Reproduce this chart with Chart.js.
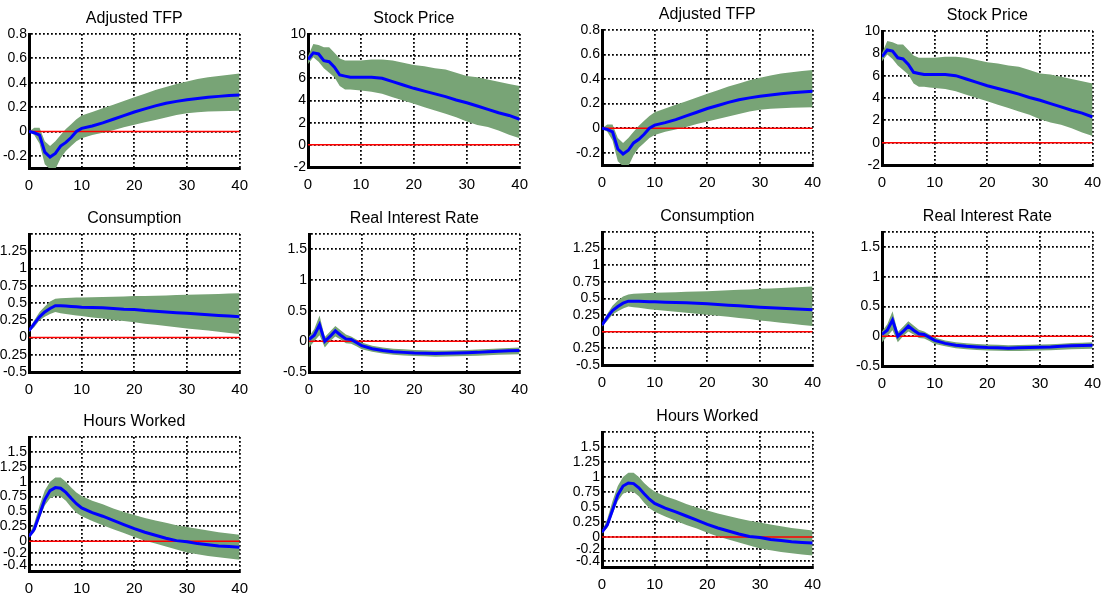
<!DOCTYPE html>
<html>
<head>
<meta charset="utf-8">
<script src="https://cdn.jsdelivr.net/npm/chart.js@4.4.0/dist/chart.umd.min.js"></script>
<style>
  html, body { margin: 0; padding: 0; background: #fff; overflow: hidden; width: 1102px; height: 597px; }
  canvas { position: absolute; }
</style>
</head>
<body>
<script>
// horizon (quarters) at which each response is read
const STEPS = [0, 1, 2, 3, 4, 5, 6, 7, 8, 9, 10, 12, 14, 16, 18, 20, 22, 24, 26, 28, 30, 32, 34, 36, 38, 40];
const X_TICKS = [0, 10, 20, 30, 40];

// Adjusted TFP
const TFP_MEAN = [0, -0.01, -0.03, -0.17, -0.21, -0.18, -0.12, -0.09, -0.05, 0.0, 0.025, 0.045, 0.07, 0.1, 0.13, 0.16, 0.185, 0.21, 0.232, 0.247, 0.26, 0.27, 0.28, 0.288, 0.295, 0.3];
const TFP_HI = [0.0, 0.03, 0.03, -0.08, -0.12, -0.08, -0.03, 0.02, 0.06, 0.1, 0.13, 0.16, 0.19, 0.22, 0.25, 0.28, 0.31, 0.34, 0.365, 0.39, 0.41, 0.43, 0.445, 0.455, 0.465, 0.475];
const TFP_LO = [0, -0.03, -0.1, -0.27, -0.31, -0.31, -0.22, -0.16, -0.12, -0.08, -0.055, -0.03, -0.01, 0.01, 0.035, 0.055, 0.075, 0.095, 0.115, 0.135, 0.15, 0.158, 0.163, 0.166, 0.168, 0.17];
const TFP_TICKS = [-0.2, 0, 0.2, 0.4, 0.6, 0.8];

// Stock Price
const STOCK_MEAN = [7.7, 8.3, 8.2, 7.6, 7.5, 7.0, 6.3, 6.2, 6.1, 6.1, 6.1, 6.1, 6.0, 5.7, 5.4, 5.1, 4.85, 4.6, 4.35, 4.05, 3.8, 3.5, 3.2, 2.9, 2.65, 2.3];
const STOCK_HI = [8.0, 9.1, 9.0, 8.8, 8.8, 8.3, 7.8, 7.6, 7.6, 7.6, 7.6, 7.7, 7.7, 7.6, 7.4, 7.2, 7.1, 6.9, 6.8, 6.5, 6.2, 6.1, 5.9, 5.7, 5.5, 5.3];
const STOCK_LO = [7.3, 7.9, 7.5, 6.9, 6.5, 6.1, 5.3, 5.0, 5.0, 4.95, 4.9, 4.8, 4.6, 4.3, 4.0, 3.7, 3.4, 3.1, 2.8, 2.5, 2.1, 1.8, 1.6, 1.3, 0.9, 0.6];
const STOCK_TICKS = [-2, 0, 2, 4, 6, 8, 10];

// Consumption (left and right blocks differ slightly)
const CONS_MEAN = [0.1, 0.2, 0.3, 0.37, 0.42, 0.46, 0.46, 0.455, 0.45, 0.445, 0.44, 0.435, 0.43, 0.42, 0.41, 0.405, 0.39, 0.38, 0.37, 0.36, 0.35, 0.34, 0.33, 0.32, 0.31, 0.3];
const CONS_HI = [0.12, 0.25, 0.37, 0.45, 0.52, 0.56, 0.57, 0.572, 0.575, 0.578, 0.58, 0.583, 0.586, 0.59, 0.595, 0.6, 0.603, 0.606, 0.61, 0.615, 0.62, 0.624, 0.628, 0.632, 0.636, 0.64];
const CONS_LO = [0.08, 0.15, 0.25, 0.3, 0.34, 0.37, 0.35, 0.34, 0.33, 0.32, 0.31, 0.29, 0.275, 0.255, 0.24, 0.22, 0.2, 0.185, 0.165, 0.15, 0.13, 0.115, 0.1, 0.085, 0.065, 0.05];
const CONS2_MEAN = [0.1, 0.22, 0.32, 0.38, 0.43, 0.46, 0.46, 0.458, 0.455, 0.452, 0.45, 0.445, 0.44, 0.435, 0.43, 0.42, 0.41, 0.4, 0.39, 0.38, 0.37, 0.36, 0.352, 0.345, 0.338, 0.33];
const CONS2_HI = [0.12, 0.27, 0.39, 0.47, 0.53, 0.56, 0.57, 0.574, 0.578, 0.582, 0.585, 0.59, 0.595, 0.6, 0.605, 0.61, 0.617, 0.624, 0.63, 0.637, 0.645, 0.652, 0.659, 0.666, 0.673, 0.68];
const CONS2_LO = [0.08, 0.16, 0.26, 0.31, 0.35, 0.38, 0.37, 0.36, 0.35, 0.34, 0.33, 0.315, 0.3, 0.285, 0.27, 0.255, 0.24, 0.225, 0.205, 0.19, 0.17, 0.155, 0.135, 0.12, 0.1, 0.085];
const CONS_TICKS = [-0.5, -0.25, 0, 0.25, 0.5, 0.75, 1, 1.25, 1.5];

// Real Interest Rate
const RATE_MEAN = [0.03, 0.1, 0.27, 0.0, 0.08, 0.17, 0.1, 0.04, 0.03, -0.02, -0.07, -0.12, -0.15, -0.17, -0.18, -0.19, -0.195, -0.2, -0.195, -0.19, -0.185, -0.18, -0.17, -0.16, -0.155, -0.15];
const RATE_HI = [0.08, 0.2, 0.42, 0.07, 0.16, 0.25, 0.18, 0.11, 0.08, 0.03, -0.02, -0.07, -0.1, -0.12, -0.13, -0.14, -0.145, -0.15, -0.148, -0.145, -0.14, -0.135, -0.125, -0.115, -0.108, -0.1];
const RATE_LO = [-0.1, 0.0, 0.1, -0.1, 0.0, 0.08, 0.03, -0.03, -0.04, -0.08, -0.13, -0.17, -0.2, -0.22, -0.23, -0.24, -0.245, -0.25, -0.248, -0.245, -0.24, -0.235, -0.228, -0.22, -0.215, -0.21];
const RATE_TICKS = [-0.5, 0, 0.5, 1, 1.5, 1.75];

// Hours Worked
const HOURS_MEAN = [0.08, 0.2, 0.45, 0.7, 0.85, 0.9, 0.89, 0.82, 0.72, 0.63, 0.56, 0.48, 0.42, 0.35, 0.28, 0.21, 0.15, 0.1, 0.05, 0.01, -0.01, -0.04, -0.06, -0.08, -0.09, -0.1];
const HOURS_HI = [0.1, 0.3, 0.6, 0.85, 1.0, 1.07, 1.07, 1.0, 0.9, 0.82, 0.76, 0.68, 0.62, 0.55, 0.49, 0.44, 0.39, 0.35, 0.31, 0.27, 0.24, 0.21, 0.18, 0.15, 0.13, 0.11];
const HOURS_LO = [0.06, 0.15, 0.38, 0.6, 0.72, 0.76, 0.75, 0.68, 0.57, 0.48, 0.42, 0.34, 0.27, 0.2, 0.14, 0.07, 0.01, -0.04, -0.09, -0.14, -0.19, -0.22, -0.25, -0.27, -0.29, -0.31];
const HOURS_TICKS = [-0.4, -0.2, 0, 0.25, 0.5, 0.75, 1, 1.25, 1.5, 1.75];

const BAND = '#78a476';
const FONT = "'Liberation Sans Narrow', 'Liberation Sans', Arial, sans-serif";
const Y_AXIS_W = 30;
const TITLE_H = 25;
const X_AXIS_H = 30;
const RIGHT_PAD = 16;

// plot-area rectangles and axis limits of each panel
const PANELS = [
  { title: 'Adjusted TFP', x: 29, y: 34, w: 212, h: 134, min: -0.3, max: 0.8, ticks: TFP_TICKS, mean: TFP_MEAN, hi: TFP_HI, lo: TFP_LO },
  { title: 'Stock Price', x: 308, y: 34, w: 213, h: 133, min: -2, max: 10, ticks: STOCK_TICKS, mean: STOCK_MEAN, hi: STOCK_HI, lo: STOCK_LO },
  { title: 'Consumption', x: 29, y: 234, w: 212, h: 138, min: -0.5, max: 1.5, ticks: CONS_TICKS, blankTop: true, mean: CONS_MEAN, hi: CONS_HI, lo: CONS_LO },
  { title: 'Real Interest Rate', x: 309, y: 234, w: 212, h: 138, min: -0.5, max: 1.75, ticks: RATE_TICKS, blankTop: true, mean: RATE_MEAN, hi: RATE_HI, lo: RATE_LO },
  { title: 'Hours Worked', x: 29, y: 437, w: 212, h: 134, min: -0.5, max: 1.75, ticks: HOURS_TICKS, blankTop: true, mean: HOURS_MEAN, hi: HOURS_HI, lo: HOURS_LO },
  { title: 'Adjusted TFP', x: 602, y: 30, w: 212, h: 135, min: -0.3, max: 0.8, ticks: TFP_TICKS, mean: TFP_MEAN, hi: TFP_HI, lo: TFP_LO },
  { title: 'Stock Price', x: 882, y: 31, w: 212, h: 134, min: -2, max: 10, ticks: STOCK_TICKS, mean: STOCK_MEAN, hi: STOCK_HI, lo: STOCK_LO },
  { title: 'Consumption', x: 602, y: 232, w: 212, h: 133, min: -0.5, max: 1.5, ticks: CONS_TICKS, blankTop: true, mean: CONS2_MEAN, hi: CONS2_HI, lo: CONS2_LO },
  { title: 'Real Interest Rate', x: 882, y: 232, w: 212, h: 134, min: -0.5, max: 1.75, ticks: RATE_TICKS, blankTop: true, mean: RATE_MEAN, hi: RATE_HI, lo: RATE_LO },
  { title: 'Hours Worked', x: 602, y: 432, w: 212, h: 135, min: -0.5, max: 1.75, ticks: HOURS_TICKS, blankTop: true, mean: HOURS_MEAN, hi: HOURS_HI, lo: HOURS_LO },
];

const toPoints = (arr) => STEPS.map((t, i) => ({ x: t, y: arr[i] }));

/** dotted MATLAB-style grid, heavy solid axes on left/bottom */
function axisStyle() {
  return {
    grid: { color: '#000', lineWidth: 1.8, drawTicks: false },
    border: { color: '#000', width: 3, dash: [1.8, 2.2] },
  };
}

function makePanel(p) {
  const cv = document.createElement('canvas');
  cv.width = Y_AXIS_W + p.w + RIGHT_PAD;
  cv.height = TITLE_H + p.h + X_AXIS_H;
  cv.style.left = (p.x - Y_AXIS_W) + 'px';
  cv.style.top = (p.y - TITLE_H) + 'px';
  document.body.appendChild(cv);

  new Chart(cv, {
    type: 'line',
    data: {
      datasets: [
        { data: toPoints(p.lo), borderWidth: 0, pointRadius: 0, fill: false, backgroundColor: BAND, order: 3 },
        { data: toPoints(p.hi), borderWidth: 0, pointRadius: 0, fill: '-1', backgroundColor: BAND, order: 2 },
        { data: [{ x: 0, y: 0 }, { x: 40, y: 0 }], borderColor: '#ff0000', borderWidth: 1.5, pointRadius: 0, order: 1 },
        { data: toPoints(p.mean), borderColor: '#0000ff', borderWidth: 3, pointRadius: 0, order: 0 },
      ],
    },
    options: {
      responsive: false,
      animation: false,
      layout: { padding: { left: 0, right: RIGHT_PAD, top: 0, bottom: 0 } },
      plugins: {
        legend: { display: false },
        tooltip: { enabled: false },
        title: {
          display: true,
          text: p.title,
          fullSize: false,
          color: '#000',
          font: { family: FONT, size: 16, weight: 'normal', lineHeight: 1.2 },
          padding: { top: 0, bottom: TITLE_H - 19.2 },
        },
      },
      scales: {
        x: {
          type: 'linear',
          min: 0,
          max: 40,
          ...axisStyle(),
          afterBuildTicks: (s) => { s.ticks = X_TICKS.map((v) => ({ value: v })); },
          afterFit: (s) => { s.height = X_AXIS_H; },
          ticks: { color: '#000', font: { family: FONT, size: 15 }, padding: 9, maxRotation: 0, autoSkip: false },
        },
        y: {
          min: p.min,
          max: p.max,
          ...axisStyle(),
          afterBuildTicks: (s) => { s.ticks = p.ticks.map((v) => ({ value: v })); },
          afterFit: (s) => { s.width = Y_AXIS_W; },
          ticks: {
            color: '#000',
            font: { family: FONT, size: 14 },
            padding: 2,
            autoSkip: false,
            callback: (v) => (p.blankTop && v === p.max ? '' : String(v)),
          },
        },
      },
    },
  });
}

PANELS.forEach(makePanel);
</script>
</body>
</html>
